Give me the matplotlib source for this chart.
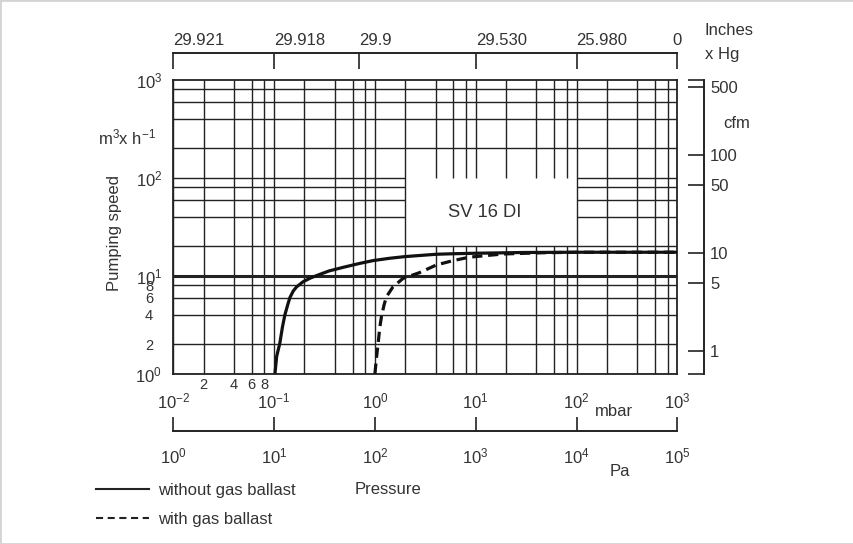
import matplotlib
matplotlib.use("Agg")
import matplotlib.pyplot as plt
import matplotlib.patches as patches
from matplotlib.lines import Line2D
from matplotlib.ticker import NullLocator

plt.rcParams["font.family"] = ["Liberation Sans", "DejaVu Sans"]
plt.rcParams["mathtext.fontset"] = "custom"
plt.rcParams["mathtext.rm"] = "Liberation Sans"
plt.rcParams["mathtext.it"] = "Liberation Sans:italic"
plt.rcParams["mathtext.bf"] = "Liberation Sans:bold"
plt.rcParams["axes.unicode_minus"] = False

# --- DATA (pressure in mbar, pumping speed in m3/h) ---
p_no_ballast = [0.102, 0.106, 0.114, 0.121, 0.128, 0.136, 0.1435, 0.155, 0.167,
                0.194, 0.23, 0.274, 0.35, 0.484, 0.71, 0.96, 1.4, 1.98, 4.07,
                6.0, 10, 30, 100, 1000]
s_no_ballast = [1.0, 1.5, 2.05, 3.0, 4.0, 5.0, 6.0, 7.0, 7.7,
                8.7, 9.5, 10.2, 11.2, 12.2, 13.4, 14.3, 15.1, 15.7, 16.6,
                16.8, 17.0, 17.3, 17.4, 17.4]

p_ballast = [1.0, 1.04, 1.077, 1.12, 1.16, 1.23, 1.30, 1.51, 1.9, 2.79,
             4.07, 5.96, 8.7, 18.6, 47, 100, 1000]
s_ballast = [1.0, 1.5, 2.05, 3.0, 3.8, 5.0, 6.1, 7.7, 9.4, 10.8,
             12.9, 14.3, 15.5, 16.7, 17.2, 17.4, 17.4]

mbar_ticks = [1e-2, 1e-1, 1e0, 1e1, 1e2, 1e3]
mbar_labels = [r"$\mathregular{10^{-2}}$", r"$\mathregular{10^{-1}}$", r"$\mathregular{10^{0}}$",
               r"$\mathregular{10^{1}}$", r"$\mathregular{10^{2}}$", r"$\mathregular{10^{3}}$"]
mbar_minor = [0.02, 0.04, 0.06, 0.08]
mbar_minor_labels = ["2", "4", "6", "8"]

pa_ticks = [1e0, 1e1, 1e2, 1e3, 1e4, 1e5]
pa_labels = [r"$\mathregular{10^{0}}$", r"$\mathregular{10^{1}}$", r"$\mathregular{10^{2}}$",
             r"$\mathregular{10^{3}}$", r"$\mathregular{10^{4}}$", r"$\mathregular{10^{5}}$"]

inhg_pos_mbar = [0.01, 0.1, 0.7, 10, 100, 1000]
inhg_labels = ["29.921", "29.918", "29.9", "29.530", "25.980", "0"]

speed_ticks = [1, 10, 100, 1000]
speed_labels = [r"$\mathregular{10^{0}}$", r"$\mathregular{10^{1}}$",
                r"$\mathregular{10^{2}}$", r"$\mathregular{10^{3}}$"]
speed_minor = [2, 4, 6, 8]
speed_minor_labels = ["2", "4", "6", "8"]

cfm_ticks = [1, 5, 10, 50, 100, 500]
cfm_labels = ["1", "5", "10", "50", "100", "500"]

grid_mult = [1, 2, 4, 6, 8]
decades = [1e-2, 1e-1, 1e0, 1e1, 1e2]
speed_decades = [1e0, 1e1, 1e2]

CFM_PER_M3H = 0.5886
PA_PER_MBAR = 100
XLIM = (1e-2, 1e3)
YLIM = (1, 1e3)
box_x = (2, 100)    # blank area behind the model label
box_y = (20, 100)

# --- LAYOUT (pixels) ---
W, H = 854, 544
L, R, T, B = 173.3, 677.3, 80, 373.7
def fx(x):
    return x / W
def fy(y):
    return 1 - y / H

TXT = "#333333"
LN = "#222222"

fig = plt.figure(figsize=(W / 100, H / 100), dpi=100)
fig.patches.append(patches.Rectangle((0, 0), 1, 1, transform=fig.transFigure,
                                     fill=False, edgecolor="#d4d4d4", lw=2))

# main chart
ax = fig.add_axes([fx(L), fy(B), (R - L) / W, (B - T) / H])
ax.set_xscale("log")
ax.set_yscale("log")
ax.set_xlim(*XLIM)
ax.set_ylim(*YLIM)
for s in ax.spines.values():
    s.set_color(LN)
    s.set_linewidth(1.3)

gx = [m * d for d in decades for m in grid_mult]
gy = [m * d for d in speed_decades for m in grid_mult]
for x in gx:
    if box_x[0] < x < box_x[1]:
        ax.vlines(x, YLIM[0], box_y[0], color=LN, lw=1.0)
        ax.vlines(x, box_y[1], YLIM[1], color=LN, lw=1.0)
    else:
        ax.vlines(x, YLIM[0], YLIM[1], color=LN, lw=1.0)
for y in gy:
    lw = 2.2 if y == 10 else 1.0
    if box_y[0] < y <= box_y[1]:
        ax.hlines(y, XLIM[0], box_x[0], color=LN, lw=lw)
        ax.hlines(y, box_x[1], XLIM[1], color=LN, lw=lw)
    else:
        ax.hlines(y, XLIM[0], XLIM[1], color=LN, lw=lw)

ax.plot(p_no_ballast, s_no_ballast, color="#111111", lw=2.3, solid_capstyle="butt", zorder=5)
ax.plot(p_ballast, s_ballast, color="#111111", lw=2.3, dashes=(3.2, 1.8), zorder=6)

ax.text(12.3, 43.8, "SV 16 DI", fontsize=13.2, color=TXT, ha="center", va="center")

ax.set_yticks(speed_ticks)
ax.set_yticklabels(speed_labels)
ax.set_yticks(speed_minor, minor=True)
ax.set_yticklabels(speed_minor_labels, minor=True)
ax.set_xticks([])
ax.set_xticks(mbar_minor, minor=True)
ax.set_xticklabels(mbar_minor_labels, minor=True)
ax.tick_params(axis="y", which="major", length=0, pad=8.0, labelsize=12, labelcolor=TXT)
ax.tick_params(axis="y", which="minor", length=0, pad=14.5, labelsize=10.5, labelcolor=TXT)
ax.tick_params(axis="x", which="minor", length=0, pad=3.0, labelsize=10.5, labelcolor=TXT)

# top scale: Inches x Hg
ax_top = fig.add_axes([fx(L), fy(69.3), (R - L) / W, (69.3 - 53.3) / H])
ax_top.set_xscale("log")
ax_top.set_xlim(*XLIM)
ax_top.patch.set_visible(False)
for k in ["left", "right", "bottom"]:
    ax_top.spines[k].set_visible(False)
ax_top.spines["top"].set_linewidth(1.4)
ax_top.spines["top"].set_color(LN)
ax_top.set_yticks([])
ax_top.set_xticks(inhg_pos_mbar)
ax_top.set_xticklabels(inhg_labels)
ax_top.xaxis.set_minor_locator(NullLocator())
ax_top.tick_params(axis="x", top=True, bottom=False, labeltop=True, labelbottom=False,
                   direction="in", length=11.5, width=1.2, color=LN, pad=4,
                   labelsize=12, labelcolor=TXT)
for t in ax_top.get_xticklabels()[:-1]:
    t.set_ha("left")

# bottom scale: mbar
ax_mb = fig.add_axes([fx(L), fy(431), (R - L) / W, (431 - 416.7) / H])
ax_mb.set_xscale("log")
ax_mb.set_xlim(*XLIM)
ax_mb.patch.set_visible(False)
for k in ["left", "right", "top"]:
    ax_mb.spines[k].set_visible(False)
ax_mb.spines["bottom"].set_linewidth(1.4)
ax_mb.spines["bottom"].set_color(LN)
ax_mb.set_yticks([])
ax_mb.set_xticks(mbar_ticks)
ax_mb.set_xticklabels(mbar_labels)
ax_mb.xaxis.set_minor_locator(NullLocator())
ax_mb.tick_params(axis="x", top=False, bottom=True, labeltop=True, labelbottom=False,
                  direction="in", length=10.3, width=1.2, color=LN, pad=4,
                  labelsize=12, labelcolor=TXT)

# bottom scale: Pa (labels only)
ax_pa = fig.add_axes([fx(L), fy(446), (R - L) / W, 0.001])
ax_pa.set_xscale("log")
ax_pa.set_xlim(XLIM[0] * PA_PER_MBAR, XLIM[1] * PA_PER_MBAR)
ax_pa.patch.set_visible(False)
for s in ax_pa.spines.values():
    s.set_visible(False)
ax_pa.set_yticks([])
ax_pa.set_xticks(pa_ticks)
ax_pa.set_xticklabels(pa_labels)
ax_pa.xaxis.set_minor_locator(NullLocator())
ax_pa.tick_params(axis="x", length=0, pad=0, labelsize=12, labelcolor=TXT)

# right scale: cfm
ax_cfm = fig.add_axes([fx(L), fy(B), (704.3 - L) / W, (B - T) / H])
ax_cfm.set_yscale("log")
ax_cfm.set_ylim(YLIM[0] * CFM_PER_M3H, YLIM[1] * CFM_PER_M3H)
ax_cfm.patch.set_visible(False)
for k in ["left", "top", "bottom"]:
    ax_cfm.spines[k].set_visible(False)
ax_cfm.spines["right"].set_linewidth(1.4)
ax_cfm.spines["right"].set_color(LN)
ax_cfm.xaxis.set_visible(False)
ax_cfm.yaxis.tick_right()
ax_cfm.set_yticks([YLIM[0] * CFM_PER_M3H] + cfm_ticks + [YLIM[1] * CFM_PER_M3H])
ax_cfm.set_yticklabels([""] + cfm_labels + [""])
ax_cfm.yaxis.set_minor_locator(NullLocator())
ax_cfm.tick_params(axis="y", direction="in", length=11.5, width=1.2, color=LN, pad=4.2,
                   labelsize=12, labelcolor=TXT)

# axis titles and units
fig.text(fx(115), fy(233), "Pumping speed", rotation=90, ha="center", va="center",
         fontsize=12, color=TXT)
fig.text(fx(156), fy(137), r"$\mathregular{m^{3}x\ h^{-1}}$", ha="right", va="center",
         fontsize=12, color=TXT)
fig.text(fx(705), fy(30.5), "Inches", ha="left", va="center", fontsize=12, color=TXT)
fig.text(fx(705), fy(55), "x Hg", ha="left", va="center", fontsize=12, color=TXT)
fig.text(fx(723), fy(123), "cfm", ha="left", va="center", fontsize=12, color=TXT)
fig.text(fx(614), fy(411), "mbar", ha="center", va="center", fontsize=12, color=TXT)
fig.text(fx(620), fy(472), "Pa", ha="center", va="center", fontsize=12, color=TXT)
fig.text(fx(388), fy(490), "Pressure", ha="center", va="center", fontsize=12, color=TXT)

# legend
handles = [Line2D([], [], color=LN, lw=1.5),
           Line2D([], [], color=LN, lw=1.5, dashes=(3.4, 2.2))]
fig.legend(handles, ["without gas ballast", "with gas ballast"], loc="upper left",
           bbox_to_anchor=(fx(96), fy(483)), frameon=False, borderpad=0, borderaxespad=0,
           handlelength=3.2, handletextpad=0.55, labelspacing=0.85, fontsize=12,
           labelcolor=TXT)

fig.savefig("out.png", dpi=100)
